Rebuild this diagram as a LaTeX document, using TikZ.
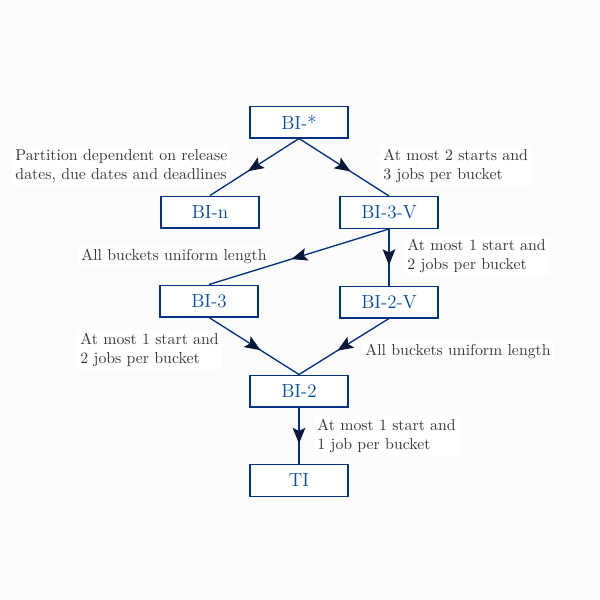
\documentclass[tikz,border=0pt]{standalone}
\usetikzlibrary{arrows.meta,decorations.markings}
\definecolor{edgeblue}{RGB}{0,51,128}
\definecolor{tipblue}{RGB}{5,25,60}
\definecolor{textblue}{RGB}{0,75,165}
\definecolor{labelgray}{RGB}{55,55,55}
\definecolor{bgwhite}{RGB}{252,252,252}
\tikzset{
  box/.style={draw=edgeblue, line width=0.85pt, fill=white, text=textblue,
    minimum width=62pt, minimum height=20pt, inner sep=0pt, font=\large},
  lbl/.style={anchor=west, align=left, fill=white, inner sep=2pt,
    text=labelgray, font=\normalsize},
  conn/.style={draw=edgeblue, line width=0.85pt,
    decoration={markings, mark=at position 0.5 with
      {\arrow[xshift=5pt, tipblue]{Stealth[length=10pt,width=8pt,inset=2pt]}}},
    postaction={decorate}}
}
\begin{document}
\begin{tikzpicture}[x=0.632pt,y=-0.632pt]
\fill[bgwhite] (0,0) rectangle (600,600);
\useasboundingbox (0,0) rectangle (600,600);

\node[lbl] (l1) at (12,166) {Partition dependent on release\\dates, due dates and deadlines};
\node[lbl] (l2) at (380,166) {At most 2 starts and\\3 jobs per bucket};
\node[lbl] (l3) at (78,256) {All buckets uniform length};
\node[lbl] (l4) at (404,256) {At most 1 start and\\2 jobs per bucket};
\node[lbl] (l5) at (77,350) {At most 1 start and\\2 jobs per bucket};
\node[lbl] (l6) at (362,351) {All buckets uniform length};
\node[lbl] (l7) at (314,436) {At most 1 start and\\1 job per bucket};

\node[box] (bistar) at (299,122) {BI-*};
\node[box] (bin) at (210,212) {BI-n};
\node[box] (bi3v) at (389,212.5) {BI-3-V};
\node[box] (bi3) at (209,301) {BI-3};
\node[box] (bi2v) at (389,302) {BI-2-V};
\node[box] (bi2) at (299,391) {BI-2};
\node[box] (ti) at (299,480.5) {TI};

\draw[conn] (bistar.south) -- (bin.north);
\draw[conn] (bistar.south) -- (bi3v.north);
\draw[conn] (bi3v.south) -- (bi3.north);
\draw[conn] (bi3v.south) -- (bi2v.north);
\draw[conn] (bi3.south) -- (bi2.north);
\draw[conn] (bi2v.south) -- (bi2.north);
\draw[conn] (bi2.south) -- (ti.north);
\end{tikzpicture}
\end{document}
